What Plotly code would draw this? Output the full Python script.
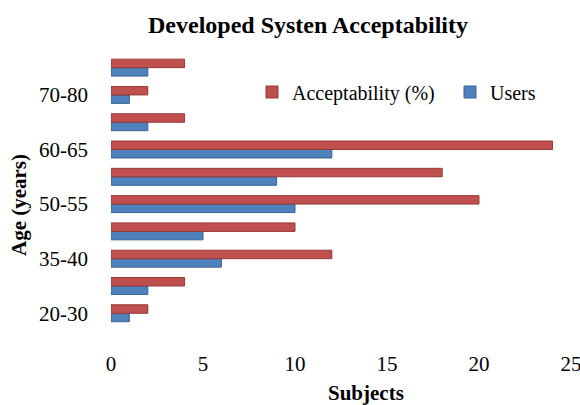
import plotly.graph_objects as go

age_groups = ["20-30", "30-35", "35-40", "40-50", "50-55", "55-60", "60-65", "65-70", "70-80", "80+"]
shown_labels = ["20-30", "35-40", "50-55", "60-65", "70-80"]
acceptability = [2, 4, 12, 10, 20, 18, 24, 4, 2, 4]
users = [1, 2, 6, 5, 10, 9, 12, 2, 1, 2]
x_ticks = [0, 5, 10, 15, 20, 25]

FONT = "Liberation Serif"
RED = "#C0504D"
BLUE = "#4F81BD"

L, R, T, B = 111, 9, 54, 56
W, H = 580, 405
pw, ph = W - L - R, H - T - B


def to_paper(px, py):
    return (px - L) / pw, (H - B - py) / ph


fig = go.Figure()
fig.add_trace(go.Bar(
    y=age_groups, x=users, orientation="h", name="Users",
    marker=dict(color=BLUE, line=dict(color="#3A6393", width=1)),
))
fig.add_trace(go.Bar(
    y=age_groups, x=acceptability, orientation="h", name="Acceptability (%)",
    marker=dict(color=RED, line=dict(color="#953A37", width=1)),
))

lx, ly = to_paper(252, 92)
sx, sy = to_paper(366, 393)
ax_, ay_ = to_paper(19, 205)

fig.update_layout(
    width=W, height=H,
    margin=dict(l=L, r=R, t=T, b=B, autoexpand=False),
    paper_bgcolor="white", plot_bgcolor="white",
    barmode="group", bargap=0.38, bargroupgap=0,
    font=dict(family=FONT, size=21, color="#000000"),
    showlegend=True,
    legend=dict(
        orientation="h", traceorder="reversed",
        x=lx, y=ly, xref="paper", yref="paper",
        xanchor="left", yanchor="middle",
        font=dict(family=FONT, size=20, color="#000000"),
        bgcolor="rgba(0,0,0,0)", itemwidth=30,
        entrywidth=153, entrywidthmode="pixels",
    ),
    title=dict(
        text="<b>Developed Systen Acceptability</b>",
        x=308 / W, xref="container", xanchor="center",
        y=1 - 25 / H, yref="container", yanchor="middle",
        font=dict(family=FONT, size=24, color="#000000"),
    ),
    xaxis=dict(
        range=[0, 25], tickvals=x_ticks, showgrid=False, zeroline=False,
        showline=False, ticks="", ticklabelstandoff=0,
        ticklabeloverflow="allow",
        tickfont=dict(family=FONT, size=21),
    ),
    yaxis=dict(
        type="category", categoryorder="array", categoryarray=age_groups,
        range=[-1.31, 9.5], tickvals=shown_labels, ticktext=shown_labels,
        showgrid=False, zeroline=False, showline=False, ticks="",
        ticklabelstandoff=22,
        tickfont=dict(family=FONT, size=21),
    ),
)
fig.add_annotation(text="<b>Subjects</b>", x=sx, y=sy, xref="paper", yref="paper",
                   showarrow=False, xanchor="center", yanchor="middle",
                   font=dict(family=FONT, size=21))
fig.add_annotation(text="<b>Age (years)</b>", x=ax_, y=ay_, xref="paper", yref="paper",
                   showarrow=False, xanchor="center", yanchor="middle", textangle=-90,
                   font=dict(family=FONT, size=21))

fig.write_html("out.html")
